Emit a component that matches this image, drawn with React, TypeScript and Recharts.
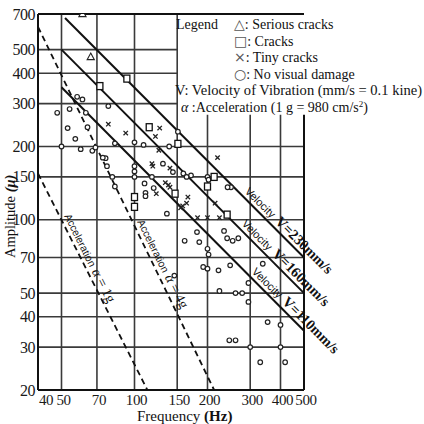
import React from 'react';
import { ScatterChart, Scatter, XAxis, YAxis, ReferenceLine, ReferenceDot } from 'recharts';

// ---- axis ticks ----
const xTicks = [40, 50, 70, 100, 150, 200, 300, 400, 500];
const yTicks = [20, 30, 40, 50, 70, 100, 150, 200, 300, 400, 500, 700];

// ---- observations [frequency Hz, amplitude µ] ----
const seriousCracks: [number, number][] = [[61, 700], [66, 466]];
const cracks: [number, number][] = [
  [72, 354], [93, 380], [115, 240], [151, 205], [213, 150], [200, 137],
  [147, 128], [100, 124], [100, 113], [241, 105],
];
const tinyCracks: [number, number][] = [
  [78, 247], [92, 227], [127, 238], [122, 220], [126, 193], [118, 170], [119, 166],
  [140, 163], [134, 142], [140, 136], [123, 128], [166, 124], [164, 117], [158, 114],
  [138, 139], [220, 180], [215, 117], [182, 102], [200, 102], [224, 102], [155, 112],
];
const noDamage: [number, number][] = [
  [58, 320], [61, 312], [78, 293], [54, 285], [48, 275], [63, 275], [64, 240], [53, 238],
  [57, 215], [60, 195], [67, 192], [69, 198], [50, 200], [76, 179], [77, 166], [83, 206],
  [100, 208], [109, 203], [139, 200], [151, 230], [100, 166], [100, 158], [131, 170],
  [144, 157], [159, 155], [171, 152], [100, 150], [118, 150], [164, 150], [200, 150],
  [202, 146], [110, 141], [111, 129], [111, 125], [120, 135], [250, 136], [242, 136],
  [136, 106], [181, 89], [161, 82], [185, 81], [234, 90], [241, 84], [254, 82],
  [268, 84], [200, 76], [202, 72], [192, 64], [222, 62], [248, 65], [200, 63], [146, 59],
  [338, 66], [295, 55], [224, 51], [261, 50], [278, 50], [295, 46], [354, 38], [400, 37],
  [246, 32], [261, 32], [300, 30], [400, 30], [330, 26], [418, 26], [81, 150], [83, 137],
  [74, 180],
];

// ---- reference lines (endpoints [f, A]) ----
const velocityValues = ['230', '160', '110'];
const velocityLines: [number, number][][] = [
  [[51.7, 674], [500, 70]],
  [[50, 500], [500, 50]],
  [[50, 350], [500, 35]],
];
const velocityLabelF = [276, 268, 295];

const accelValues = ['1g', '4g'];
const accelLines: [number, number][][] = [
  [[40, 155], [113, 20]],
  [[40, 620], [213, 20]],
];
const accelLabelF = [49.5, 99];

// ---- grid ----
const hGridFull = [30, 40, 50, 70, 100, 150, 200];
const hGridShort = [300, 400, 500];
const vGridFull = [50, 70, 100, 150];
const vGridShort = [200, 300, 400];
const boxLeftF = 150;
const boxBottomA = 270;

const SERIF = '"Liberation Serif", "Times New Roman", serif';
const SANS = '"Liberation Sans", Arial, sans-serif';

const toPts = (arr: [number, number][]) => arr.map(([f, a]) => ({ f, a }));

const onLine = (line: [number, number][], f: number) => {
  const [[f1, a1], [f2, a2]] = line;
  const t = (Math.log(f) - Math.log(f1)) / (Math.log(f2) - Math.log(f1));
  return Math.exp(Math.log(a1) + t * (Math.log(a2) - Math.log(a1)));
};

const CircleShape = (p: any) => (
  <circle cx={p.cx} cy={p.cy} r={2.3} fill="#fff" stroke="#222" strokeWidth={1.2} />
);
const SquareShape = (p: any) => (
  <rect x={p.cx - 3} y={p.cy - 3.5} width={6} height={7} fill="#fff" stroke="#111" strokeWidth={1.3} />
);
const TriShape = (p: any) => (
  <path
    d={`M${p.cx},${p.cy - 4} L${p.cx + 3.6},${p.cy + 2.6} L${p.cx - 3.6},${p.cy + 2.6} Z`}
    fill="#fff"
    stroke="#222"
    strokeWidth={1.1}
  />
);
const CrossShape = (p: any) => (
  <path
    d={`M${p.cx - 2.2},${p.cy - 2.2}L${p.cx + 2.2},${p.cy + 2.2}M${p.cx + 2.2},${p.cy - 2.2}L${p.cx - 2.2},${p.cy + 2.2}`}
    stroke="#222"
    strokeWidth={1.3}
  />
);

const XTick = (p: any) => {
  const v = p.payload.value;
  const first = v === 40;
  return (
    <text
      x={p.x + (first ? 1 : 2)}
      y={p.y}
      dy={11}
      textAnchor={first ? 'start' : 'middle'}
      fontFamily={SERIF}
      fontSize={15}
      letterSpacing={-0.4}
      fill="#1a1a1a"
    >
      {v}
    </text>
  );
};
const YTick = (p: any) => (
  <text x={p.x} y={p.y} dy={5.5} textAnchor="end" fontFamily={SERIF} fontSize={16} letterSpacing={-0.5} fill="#1a1a1a">
    {p.payload.value}
  </text>
);

const VelLabel = ({ cx, cy, v }: any) => (
  <text transform={`rotate(45 ${cx} ${cy})`} x={cx} y={cy - 4} fill="#111">
    <tspan fontFamily={SANS} fontSize={11}>Velocity</tspan>
    <tspan dx={5} fontFamily={SERIF} fontSize={14.5} fontWeight="bold">{`V=${v}mm/s`}</tspan>
  </text>
);
const AccLabel = ({ cx, cy, v }: any) => (
  <text transform={`rotate(63.5 ${cx} ${cy})`} x={cx} y={cy - 4} fill="#111">
    <tspan fontFamily={SANS} fontSize={10.5}>Acceleration</tspan>
    <tspan dx={4} fontFamily={SERIF} fontSize={14} fontStyle="italic">α</tspan>
    <tspan fontFamily={SERIF} fontSize={14}>{` = ${v}`}</tspan>
  </text>
);

const GRID = '#3a3a3a';

export default function App() {
  return (
    <div style={{ position: 'absolute', left: 0, top: 0, width: 424, height: 424, background: '#fff' }}>
      <ScatterChart width={424} height={424} margin={{ top: 14, right: 120, bottom: 0, left: 0 }}>
        <XAxis
          type="number"
          dataKey="f"
          scale="log"
          domain={[40, 500]}
          ticks={xTicks}
          interval={0}
          allowDataOverflow
          tickLine={false}
          axisLine={false}
          tickSize={2}
          height={34}
          tick={<XTick />}
        />
        <YAxis
          type="number"
          dataKey="a"
          scale="log"
          domain={[20, 700]}
          ticks={yTicks}
          interval={0}
          allowDataOverflow
          tickLine={false}
          axisLine={false}
          tickSize={3}
          tickMargin={0}
          width={38}
          tick={<YTick />}
        />
        {hGridFull.map((a) => (
          <ReferenceLine key={'h' + a} segment={[{ x: 40, y: a }, { x: 500, y: a }]} stroke={GRID} strokeWidth={1.6} />
        ))}
        {hGridShort.map((a) => (
          <ReferenceLine key={'hs' + a} segment={[{ x: 40, y: a }, { x: boxLeftF, y: a }]} stroke={GRID} strokeWidth={1.6} />
        ))}
        {vGridFull.map((f) => (
          <ReferenceLine key={'v' + f} segment={[{ x: f, y: 20 }, { x: f, y: 700 }]} stroke={GRID} strokeWidth={1.6} />
        ))}
        {vGridShort.map((f) => (
          <ReferenceLine key={'vs' + f} segment={[{ x: f, y: 20 }, { x: f, y: boxBottomA }]} stroke={GRID} strokeWidth={1.6} />
        ))}
        <ReferenceLine segment={[{ x: 40, y: 700 }, { x: 500, y: 700 }]} stroke="#111" strokeWidth={2} />
        <ReferenceLine segment={[{ x: 40, y: 20 }, { x: 500, y: 20 }]} stroke="#111" strokeWidth={2} />
        <ReferenceLine segment={[{ x: 40, y: 20 }, { x: 40, y: 700 }]} stroke="#111" strokeWidth={2} />
        <ReferenceLine segment={[{ x: 500, y: 20 }, { x: 500, y: boxBottomA }]} stroke="#111" strokeWidth={2} />

        {velocityLines.map((ln, i) => (
          <ReferenceLine
            key={'vel' + i}
            segment={[{ x: ln[0][0], y: ln[0][1] }, { x: ln[1][0], y: ln[1][1] }]}
            stroke="#111"
            strokeWidth={2}
          />
        ))}
        {accelLines.map((ln, i) => (
          <ReferenceLine
            key={'acc' + i}
            segment={[{ x: ln[0][0], y: ln[0][1] }, { x: ln[1][0], y: ln[1][1] }]}
            stroke="#111"
            strokeWidth={1.8}
            strokeDasharray="6 4"
          />
        ))}
        {velocityLines.map((ln, i) => (
          <ReferenceDot
            key={'vl' + i}
            x={velocityLabelF[i]}
            y={onLine(ln, velocityLabelF[i])}
            r={0}
            ifOverflow="visible"
            shape={(p: any) => <VelLabel cx={p.cx} cy={p.cy} v={velocityValues[i]} />}
          />
        ))}
        {accelLines.map((ln, i) => (
          <ReferenceDot
            key={'al' + i}
            x={accelLabelF[i]}
            y={onLine(ln, accelLabelF[i])}
            r={0}
            ifOverflow="visible"
            shape={(p: any) => <AccLabel cx={p.cx} cy={p.cy} v={accelValues[i]} />}
          />
        ))}

        <Scatter name="No visual damage" data={toPts(noDamage)} shape={CircleShape} isAnimationActive={false} />
        <Scatter name="Tiny cracks" data={toPts(tinyCracks)} shape={CrossShape} isAnimationActive={false} />
        <Scatter name="Cracks" data={toPts(cracks)} shape={SquareShape} isAnimationActive={false} />
        <Scatter name="Serious cracks" data={toPts(seriousCracks)} shape={TriShape} isAnimationActive={false} />
      </ScatterChart>

      <svg width={424} height={424} style={{ position: 'absolute', left: 0, top: 0, pointerEvents: 'none' }}>
        <g fontFamily={SERIF} fontSize={14} fill="#111">
          <text x={176} y={29}>Legend</text>
          <text x={234} y={29}><tspan fontFamily='"DejaVu Sans", sans-serif' fill="#555">△</tspan>: Serious cracks</text>
          <text x={234} y={45.5}><tspan fontFamily='"DejaVu Sans", sans-serif' fill="#555">□</tspan>: Cracks</text>
          <text x={234} y={62}><tspan fontFamily='"DejaVu Sans", sans-serif' fill="#555">×</tspan>: Tiny cracks</text>
          <text x={234} y={78.5}><tspan fontFamily='"DejaVu Sans", sans-serif' fill="#555">○</tspan>: No visual damage</text>
          <text x={175} y={95} textLength={247} lengthAdjust="spacingAndGlyphs">V: Velocity of Vibration (mm/s = 0.1 kine)</text>
          <text x={181} y={112}>
            <tspan fontStyle="italic">α</tspan> :Acceleration (1 g = 980 cm/s<tspan dy={-5} fontSize={9}>2</tspan><tspan dy={5}>)</tspan>
          </text>
        </g>
        <text x={137} y={421} fontFamily={SERIF} fontSize={15} fill="#111">
          Frequency <tspan fontWeight="bold">(Hz)</tspan>
        </text>
        <text transform="rotate(-90 15 258)" x={15} y={258} fontFamily={SERIF} fontSize={14.5} fill="#111">
          Amplitude <tspan fontStyle="italic" fontWeight="bold">(μ)</tspan>
        </text>
      </svg>
    </div>
  );
}
